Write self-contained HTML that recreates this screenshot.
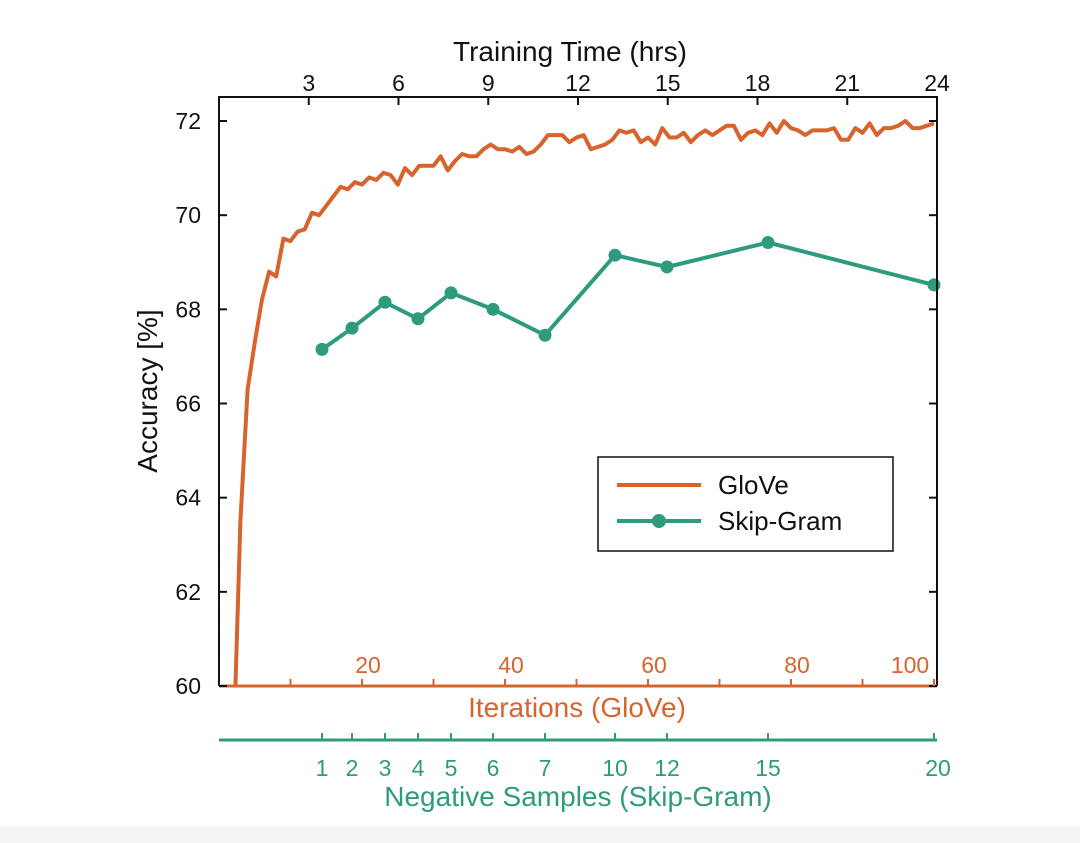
<!DOCTYPE html>
<html><head><meta charset="utf-8"><style>
html,body{margin:0;padding:0;background:#fff;width:1080px;height:843px;overflow:hidden;}
svg{display:block;font-family:"Liberation Sans",Arial,sans-serif;}
</style></head><body>
<svg id="chart" width="1080" height="843" viewBox="0 0 1080 843">
<rect x="0" y="826" width="1080" height="17" fill="#f4f4f4"/>
<g id="g"></g>
</svg>
<script>
const hourTicks=[3,6,9,12,15,18,21,24];
const yTicks=[60,62,64,66,68,70,72];
const iterLabels=[20,40,60,80,100];
const iterTicks=[10,20,30,40,50,60,70,80,90,100];
const negSamples=[1,2,3,4,5,6,7,10,12,15,20];
const negPos=[322,352,385,418,451,493,545,615,667,768,934];
const skipGram=[67.15,67.6,68.15,67.8,68.35,68.0,67.45,69.15,68.9,69.42,68.52];
const glove=[50,58.5,63.5,66.3,67.3,68.2,68.8,68.7,69.5,69.45,69.65,69.7,70.05,70.0,70.2,70.4,70.6,70.55,70.7,70.65,70.8,70.75,70.9,70.85,70.65,71.0,70.85,71.05,71.05,71.05,71.25,70.95,71.15,71.3,71.25,71.25,71.4,71.5,71.4,71.4,71.35,71.45,71.3,71.35,71.5,71.7,71.7,71.7,71.55,71.65,71.7,71.4,71.45,71.5,71.6,71.8,71.75,71.8,71.55,71.65,71.5,71.85,71.65,71.65,71.75,71.55,71.7,71.8,71.7,71.8,71.9,71.9,71.6,71.75,71.8,71.7,71.95,71.75,72.0,71.85,71.8,71.7,71.8,71.8,71.8,71.85,71.6,71.6,71.85,71.75,71.95,71.7,71.85,71.85,71.9,72.0,71.85,71.85,71.9,71.95];
const OR="#d6642c",GR="#2f9b7e";
const L=219,R=937,T=97,B=686;
const y=v=>B-(v-60)/12*(B-121);
const xh=h=>L+h/24*(R-L);
const xi=i=>L+i*7.15;
const g=document.getElementById('g');
const NS="http://www.w3.org/2000/svg";
function mk(tag,a,txt){const e=document.createElementNS(NS,tag);for(const k in a)e.setAttribute(k,a[k]);if(txt!==undefined)e.textContent=txt;g.appendChild(e);return e;}
const cp=mk('clipPath',{id:'cp'});const cr=document.createElementNS(NS,'rect');cr.setAttribute('x',L);cr.setAttribute('y',T);cr.setAttribute('width',R-L);cr.setAttribute('height',B-T);cp.appendChild(cr);
let d=glove.map((v,i)=>(i?'L':'M')+xi(i+1).toFixed(1)+','+y(v).toFixed(1)).join('');
let e=mk('path',{d:d,fill:'none',stroke:OR,'stroke-width':4,'stroke-linejoin':'round','clip-path':'url(#cp)'});


d=skipGram.map((v,i)=>(i?'L':'M')+negPos[i]+','+y(v).toFixed(1)).join('');
e=mk('path',{d:d,fill:'none',stroke:GR,'stroke-width':4,'stroke-linejoin':'round'});


skipGram.forEach((v,i)=>{const c=mk('circle',{cx:negPos[i],cy:y(v),r:6.5,fill:GR});

});
e=mk('path',{d:`M${L},${B}V${T}H${R}V${B}`,fill:'none',stroke:'#111','stroke-width':2});


e=mk('line',{x1:L,x2:R,y1:B,y2:B,stroke:OR,'stroke-width':3});


yTicks.forEach(v=>{
 mk('line',{x1:L,x2:L+8,y1:y(v),y2:y(v),stroke:'#111','stroke-width':2});
 mk('line',{x1:R,x2:R-8,y1:y(v),y2:y(v),stroke:'#111','stroke-width':2});
 const t=mk('text',{x:201,y:y(v)+8,'text-anchor':'end','font-size':23,fill:'#111'},v);
 
 
});
hourTicks.forEach(h=>{
 mk('line',{x1:xh(h),x2:xh(h),y1:T,y2:T+8,stroke:'#111','stroke-width':2});
 const t=mk('text',{x:xh(h),y:91,'text-anchor':'middle','font-size':23,fill:'#111'},h);
 
 
});
iterTicks.forEach(i=>{mk('line',{x1:xi(i),x2:xi(i),y1:B,y2:B-7,stroke:OR,'stroke-width':2});});
iterLabels.forEach(i=>{
 const t=mk('text',{x:i==100?xi(i)-24:xi(i)+6,y:673,'text-anchor':'middle','font-size':23,fill:OR},i);
 
 
});
e=mk('line',{x1:L,x2:R,y1:740,y2:740,stroke:GR,'stroke-width':3});


negSamples.forEach((n,i)=>{
 mk('line',{x1:negPos[i],x2:negPos[i],y1:740,y2:733,stroke:GR,'stroke-width':2});
 const t=mk('text',{x:n==20?negPos[i]+4:negPos[i],y:776,'text-anchor':'middle','font-size':23,fill:GR},n);
 
 
});
function T_(txt,a,name){const t=mk('text',a,txt);}
T_('Training Time (hrs)',{x:570,y:61,'text-anchor':'middle','font-size':28,fill:'#111'},'top-axis-title');
T_('Iterations (GloVe)',{x:577,y:717,'text-anchor':'middle','font-size':28,fill:OR},'iterations-axis-title');
T_('Negative Samples (Skip-Gram)',{x:578,y:806,'text-anchor':'middle','font-size':28,fill:GR},'negative-samples-axis-title');
T_('Accuracy [%]',{x:157,y:391,'text-anchor':'middle','font-size':28,fill:'#111',transform:'rotate(-90 157 391)'},'y-axis-title');
e=mk('rect',{x:598,y:457,width:295,height:94,fill:'#fff',stroke:'#111','stroke-width':1.5});


mk('line',{x1:617,x2:701,y1:485,y2:485,stroke:OR,'stroke-width':4});
T_('GloVe',{x:718,y:494,'font-size':26,fill:'#111'},'legend-glove');
mk('line',{x1:617,x2:701,y1:521,y2:521,stroke:GR,'stroke-width':4});
mk('circle',{cx:659,cy:521,r:7,fill:GR});
T_('Skip-Gram',{x:718,y:530,'font-size':26,fill:'#111'},'legend-skip-gram');
</script>
</body></html>
